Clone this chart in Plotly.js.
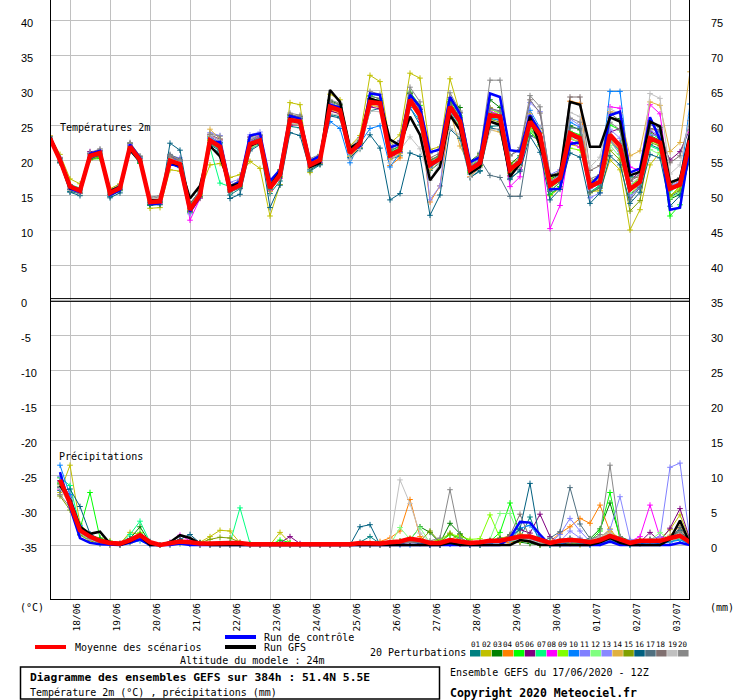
<!DOCTYPE html>
<html><head><meta charset="utf-8">
<script src="https://cdn.plot.ly/plotly-3.0.1.min.js"></script>
<style>body{margin:0;background:#fff}#chart{width:740px;height:700px}</style>
</head><body><div id="chart"></div>
<script>
// ---------- DATA ----------
const dateLabels = ['18/06','19/06','20/06','21/06','22/06','23/06','24/06','25/06','26/06','27/06','28/06','29/06','30/06','01/07','02/07','03/07'];
const dateTickHours = [12,36,60,84,108,132,156,180,204,228,252,276,300,324,348,372];
const yTickVals = [-35,-30,-25,-20,-15,-10,-5,0,5,10,15,20,25,30,35,40];
const leftTickText = ['-35','-30','-25','-20','-15','-10','-5','0','5','10','15','20','25','30','35','40'];
const rightTickText = ['0','5','10','15','20','25','30','35','40','45','50','55','60','65','70','75'];
const pertNames = ['01','02','03','04','05','06','07','08','09','10','11','12','13','14','15','16','17','18','19','20'];
const pertColors = ['#008080','#c0c000','#008000','#ff8000','#00ff00','#800080','#00ff80','#ff00ff','#80ff00','#0080ff','#8080ff','#80ff80','#8888ff','#e0b040','#80a000','#006080','#507080','#807070','#c0c0c0','#888888'];

// Temperature 2m (degC), every 6 h from 17/06 12Z to +384 h
const tempMean = [23.1,20.0,16.2,15.6, 20.6,21.0,15.3,16.0, 21.9,20.0,14.0,14.1, 19.9,19.4,12.9,15.0, 22.8,21.9,15.7,16.4, 22.3,22.8,16.0,17.9, 25.7,25.5,19.3,20.0, 27.6,27.1,21.0,22.4, 28.3,28.1,20.7,21.4, 28.6,26.4,19.3,20.2, 27.6,25.5,18.6,19.6, 26.4,26.2,18.6,19.8, 25.5,23.6,16.4,17.4, 23.8,23.1,16.2,16.9, 23.6,22.0,15.8,16.9, 23.1,22.5,15.9,16.5, 22.8];
const tempCtrl = [23.2,20.3,15.9,15.4, 20.9,21.3,15.0,15.7, 22.2,20.3,13.7,13.8, 19.5,19.0,12.6,14.7, 22.5,22.6,16.2,16.9, 23.5,23.8,17.0,18.6, 26.3,25.9,19.8,20.6, 27.9,27.5,21.2,22.0, 29.5,29.3,21.8,22.3, 29.3,27.6,21.1,21.5, 29.0,26.6,19.7,20.4, 29.5,29.0,21.4,21.2, 26.4,24.0,15.8,15.9, 22.3,22.5,16.4,17.9, 26.4,26.9,18.2,18.8, 26.1,22.9,12.9,13.2, 22.0];
const tempGfs = [23.3,20.1,16.0,15.8, 20.7,21.1,15.6,16.2, 21.5,19.8,14.3,14.2, 19.7,19.2,14.5,16.3, 22.0,20.5,16.3,16.6, 22.0,22.7,16.3,18.3, 25.9,25.3,19.0,19.6, 30.0,28.3,21.7,22.6, 28.8,28.3,22.9,22.1, 26.2,23.6,17.1,19.0, 26.4,24.3,18.1,19.0, 25.5,25.0,17.6,19.5, 26.2,22.1,17.7,18.0, 28.3,27.9,21.9,21.9, 26.1,25.5,17.8,18.3, 25.5,24.8,16.8,17.3, 23.8];
const tempP01 = [23.0,19.6,15.5,15.2, 20.2,20.6,14.8,15.6, 21.4,19.6,13.5,13.7, 20.6,19.9,13.4,15.6, 21.9,21.0,15.0,15.9, 21.6,22.3,15.2,17.0, 24.8,24.6,18.4,19.3, 26.5,26.2,20.4,21.6, 27.0,27.4,20.1,20.6, 27.5,25.0,18.5,19.6, 26.8,24.6,17.5,18.5, 24.8,24.9,17.2,18.6, 24.5,23.0,15.0,16.2, 22.5,22.3,15.4,16.4, 22.8,21.3,15.1,16.2, 22.2,21.6,14.7,15.5, 21.2];
const tempP02 = [23.4,20.8,17.3,16.6, 20.1,20.4,15.9,16.6, 21.4,19.9,13.1,13.2, 18.6,18.4,13.6,15.6, 19.3,19.5,17.5,17.9, 19.8,18.8,12.0,16.5, 28.2,27.9,18.2,20.8, 29.4,28.6,22.0,23.5, 32.1,31.2,22.4,23.6, 32.4,31.7,21.5,21.9, 31.6,26.7,19.1,20.8, 27.5,26.3,19.5,20.1, 24.6,22.0,14.9,16.0, 22.2,21.9,15.5,15.6, 20.0,18.6,10.0,12.9, 19.3,21.1,14.8,16.3, 20.6];
const tempP03 = [23.2,20.1,16.0,15.5, 20.9,21.2,15.4,16.2, 22.3,20.3,14.2,14.0, 19.6,19.1,12.6,14.8, 23.3,22.5,16.1,16.6, 22.6,23.3,16.6,18.6, 26.4,26.0,19.9,20.7, 28.5,27.9,21.4,22.6, 28.8,28.4,21.0,21.8, 29.5,27.2,20.0,20.5, 28.3,27.5,19.8,20.9, 28.6,27.5,19.4,20.6, 26.2,24.5,17.3,17.9, 24.9,24.3,17.0,17.6, 26.0,25.9,17.6,17.5, 23.5,22.8,14.4,15.1, 21.5];
const tempP04 = [23.0,20.2,16.4,15.8, 20.4,20.8,15.1,15.9, 22.0,20.2,14.3,14.5, 20.2,19.7,13.0,15.3, 23.0,22.0,15.5,16.3, 22.0,22.4,15.6,17.4, 25.3,25.2,19.0,19.5, 27.1,26.6,20.6,22.1, 27.8,27.6,19.2,20.3, 28.0,25.9,14.0,16.3, 26.2,24.9,17.6,19.0, 25.5,25.1,17.8,19.1, 25.0,23.8,16.0,17.2, 28.4,28.1,16.0,17.0, 23.0,21.4,14.7,16.7, 24.5,24.0,16.5,17.2, 23.5];
const tempP05 = [23.3,20.0,16.3,15.9, 20.1,20.2,15.6,16.1, 21.6,19.5,13.6,13.9, 20.0,19.4,12.5,14.6, 22.8,22.3,16.0,16.2, 22.9,23.5,16.1,17.5, 26.0,26.2,19.3,20.3, 28.2,27.5,21.3,22.8, 29.2,28.7,21.2,22.0, 29.7,27.8,19.3,20.0, 28.6,26.3,18.2,19.2, 26.8,26.5,18.3,19.3, 24.0,22.5,15.1,16.2, 24.1,23.6,16.2,16.8, 25.0,24.3,16.0,16.6, 23.9,23.0,12.0,13.6, 21.1];
const tempP06 = [23.1,20.3,16.1,15.6, 21.2,21.3,15.2,16.0, 22.1,20.2,14.0,14.3, 20.5,19.8,12.7,15.2, 23.5,22.8,15.8,16.0, 23.3,23.6,16.0,17.5, 25.0,25.0,19.0,19.6, 27.0,26.6,20.8,22.1, 27.6,27.3,20.3,21.1, 28.5,26.3,19.0,20.0, 28.0,25.5,18.0,19.3, 26.3,26.0,17.7,19.1, 25.1,23.3,16.6,17.1, 23.4,22.8,16.3,16.8, 24.0,24.5,17.0,18.4, 24.1,23.2,20.0,21.2, 24.4];
const tempP07 = [23.4,20.2,16.5,16.0, 20.3,20.9,15.4,16.2, 21.7,20.4,14.1,14.0, 19.5,18.9,12.8,15.1, 21.8,16.7,16.2,16.5, 22.5,22.9,16.3,17.6, 25.5,25.4,19.1,19.7, 27.7,27.0,21.2,22.3, 28.4,28.0,20.8,21.5, 28.4,26.2,19.1,20.5, 27.3,24.8,18.4,19.7, 26.0,25.8,18.5,19.5, 25.6,22.2,16.5,17.5, 23.0,22.5,15.4,16.2, 23.4,21.6,16.4,17.2, 22.0,21.4,15.6,16.4, 22.0];
const tempP08 = [23.0,19.8,15.9,15.3, 20.6,21.0,15.1,15.8, 22.1,20.0,13.9,13.8, 20.4,19.9,11.4,14.5, 23.6,22.9,15.5,16.4, 22.8,23.4,15.7,17.4, 25.8,25.4,19.2,19.7, 27.4,26.8,20.8,22.2, 28.0,27.8,20.4,21.1, 28.3,26.0,19.2,20.1, 27.4,25.9,18.8,19.9, 27.0,26.4,16.2,17.6, 25.8,23.0,10.2,13.5, 22.6,21.8,16.1,17.6, 27.6,27.4,19.0,18.5, 27.9,26.6,16.1,16.5, 24.0];
const tempP09 = [23.2,20.0,16.2,15.6, 20.5,21.1,15.4,16.0, 21.8,19.9,14.1,14.3, 20.1,19.6,13.0,15.0, 22.9,22.0,15.9,16.6, 22.4,22.7,16.2,18.0, 25.9,25.6,19.6,20.1, 27.3,26.9,21.3,22.6, 28.6,28.3,20.9,21.7, 28.9,26.8,19.6,20.4, 27.9,25.2,18.8,20.6, 27.2,26.8,19.1,20.0, 24.8,22.9,17.4,18.2, 21.7,21.4,16.8,17.5, 22.7,20.9,16.2,17.5, 22.8,22.1,14.9,16.0, 22.3];
const tempP10 = [23.1,20.2,16.3,15.7, 20.8,21.0,15.3,16.1, 22.0,20.1,13.9,14.1, 20.3,19.8,13.2,15.3, 23.1,22.4,16.1,16.8, 22.6,23.1,16.2,18.1, 25.6,25.3,19.4,20.4, 25.5,24.5,19.6,22.4, 24.5,24.9,19.0,21.0, 27.5,25.5,18.9,19.9, 27.0,25.1,18.5,19.4, 25.9,25.7,18.9,20.3, 27.1,24.6,16.8,18.0, 25.4,24.7,16.5,17.5, 29.8,29.8,17.7,18.3, 25.3,24.0,15.8,16.6, 28.0];
const tempP11 = [23.3,20.4,16.0,15.4, 21.0,21.4,15.0,15.8, 22.2,20.3,13.8,14.2, 20.6,20.3,12.4,14.7, 23.2,22.6,16.3,17.0, 23.0,23.6,16.7,18.2, 26.2,26.1,19.9,20.3, 28.0,27.6,21.0,22.2, 28.6,28.5,21.6,22.7, 29.0,27.0,19.4,20.0, 27.7,25.9,19.1,19.9, 26.6,26.4,19.0,19.5, 28.2,26.9,17.9,18.6, 23.6,22.9,14.6,15.3, 22.9,20.8,14.9,16.0, 23.6,23.4,16.3,16.8, 23.5];
const tempP12 = [23.1,19.9,16.1,15.6, 20.3,20.8,15.5,16.3, 21.5,19.7,14.2,14.4, 19.8,19.3,13.4,15.4, 22.4,21.4,15.4,16.1, 21.8,22.2,15.8,17.6, 25.3,25.0,19.0,20.2, 27.3,27.0,20.6,22.2, 28.2,28.0,20.5,21.2, 28.8,26.4,19.7,20.8, 27.4,25.0,18.0,19.0, 26.2,26.2,18.3,19.9, 24.3,22.6,15.7,16.8, 23.2,22.3,16.9,17.3, 22.1,20.4,15.2,16.4, 21.5,20.8,14.5,15.4, 21.6];
const tempP13 = [23.2,20.1,16.2,15.7, 20.7,21.2,15.2,15.9, 22.0,20.0,14.0,14.2, 20.0,19.5,12.3,14.6, 23.9,23.5,16.8,17.3, 23.6,24.0,16.4,18.0, 26.0,25.8,19.6,20.1, 28.1,27.4,20.9,22.0, 28.2,27.8,20.6,21.3, 28.2,26.4,14.3,16.3, 27.9,26.7,19.4,20.3, 27.3,26.9,18.7,19.9, 26.3,24.6,16.2,17.2, 25.9,24.9,15.9,16.6, 24.4,23.1,14.7,16.2, 24.3,23.4,16.2,17.1, 22.8];
const tempP14 = [23.5,20.3,16.3,15.8, 20.8,21.1,15.3,16.1, 22.0,20.1,14.3,14.6, 20.3,19.6,13.3,15.5, 24.4,23.0,15.6,16.5, 21.9,22.4,15.5,17.5, 25.2,25.1,18.8,19.5, 27.3,26.7,20.5,21.8, 27.9,27.6,20.1,20.9, 28.1,26.1,18.6,19.7, 27.0,22.0,19.1,19.4, 24.3,24.0,18.2,20.1, 26.6,24.3,17.2,17.3, 23.0,22.7,16.9,17.8, 26.9,26.7,20.6,21.3, 28.3,27.8,21.2,22.5, 32.6];
const tempP15 = [23.0,19.7,15.8,15.3, 20.0,20.5,15.1,15.7, 21.6,19.8,13.7,13.9, 19.4,19.0,12.7,14.6, 22.3,21.6,15.6,16.3, 22.1,22.8,15.9,17.7, 25.7,25.4,19.1,19.9, 27.6,27.2,21.1,22.4, 28.6,28.2,20.5,21.2, 28.7,26.9,20.0,20.7, 28.3,26.0,18.4,19.2, 25.8,25.4,18.1,19.2, 25.1,23.9,16.0,17.0, 23.7,23.4,15.3,16.0, 21.4,20.0,12.7,14.2, 22.5,22.0,14.9,15.7, 21.0];
const tempP16 = [22.9,19.6,15.4,14.9, 20.2,20.7,14.6,15.3, 21.2,19.6,13.6,13.6, 22.4,21.4,13.8,15.6, 22.2,21.3,14.5,15.1, 21.3,22.2,13.2,16.4, 23.9,23.5,18.6,19.4, 26.3,26.0,20.3,21.7, 23.6,21.7,14.3,15.2, 21.0,20.5,12.1,15.0, 24.4,23.1,17.5,18.4, 24.6,24.3,17.4,18.4, 23.4,21.1,14.3,15.8, 21.0,20.4,13.8,15.3, 20.6,19.3,13.8,15.4, 20.8,20.3,13.4,14.9, 20.2];
const tempP17 = [23.1,19.9,15.8,15.5, 20.4,20.9,15.0,15.8, 21.5,19.8,13.9,14.0, 20.8,20.1,13.1,14.8, 22.5,21.5,15.4,16.0, 22.0,22.5,15.8,17.8, 26.1,25.9,19.6,20.5, 27.8,27.3,21.5,22.8, 28.8,28.5,21.4,22.0, 29.3,27.2,19.8,20.8, 28.0,26.1,19.0,20.1, 17.8,17.5,14.8,14.8, 23.5,22.8,15.5,16.8, 24.6,24.5,15.4,16.0, 23.5,22.4,14.3,16.1, 25.6,24.6,16.4,17.4, 21.4];
const tempP18 = [23.3,20.3,16.5,15.9, 20.9,21.4,15.5,16.4, 22.4,20.5,14.5,14.7, 20.5,19.9,13.7,15.6, 23.6,23.0,16.4,17.1, 23.2,23.6,16.8,18.4, 26.5,26.2,19.8,20.5, 28.3,27.8,21.4,22.7, 29.1,28.8,21.6,22.3, 29.6,27.4,20.3,21.0, 28.9,26.8,19.6,20.7, 27.4,27.0,20.6,21.5, 28.6,26.7,17.8,18.3, 29.0,29.0,18.5,19.2, 26.7,25.6,17.0,17.8, 24.5,24.3,19.6,20.6, 25.6];
const tempP19 = [23.2,20.0,16.0,15.5, 20.5,21.0,15.6,16.3, 21.7,20.1,14.4,14.6, 20.1,19.7,13.2,15.3, 23.5,22.8,16.0,16.8, 23.1,23.7,16.4,17.8, 25.3,25.1,19.0,19.8, 26.6,26.4,20.1,21.5, 27.0,26.9,19.6,21.4, 23.3,21.6,17.1,19.6, 24.5,23.6,17.5,18.9, 24.2,24.5,17.9,19.1, 25.8,24.7,16.0,17.8, 26.8,26.2,19.0,20.4, 27.3,26.6,16.5,17.6, 29.5,28.8,18.0,19.3, 26.3];
const tempP20 = [23.0,19.8,15.7,15.2, 21.0,21.6,15.7,16.5, 22.5,20.6,14.7,14.9, 20.7,20.0,13.3,15.4, 23.7,23.4,16.3,17.0, 22.9,23.2,16.6,18.5, 26.7,26.4,20.2,20.8, 28.6,28.1,21.8,23.2, 29.8,29.4,22.0,22.8, 30.4,28.3,20.9,21.7, 29.6,27.0,19.2,21.1, 31.4,31.4,20.6,21.8, 29.2,27.6,17.0,17.9, 26.0,25.4,17.3,17.9, 25.4,24.3,17.2,17.9, 25.0,24.7,16.8,17.5, 24.2];

// Precipitation (mm / 6 h), from +6 h to +384 h
const precMean = [9.3,6.0,2.1,1.2,0.6,0.3,0.2,0.7, 1.4,0.4,0.0,0.3,0.5,0.4,0.2,0.2, 0.3,0.3,0.3,0.1,0.1,0.1,0.2,0.2, 0.1,0.1,0.1,0.1,0.1,0.1,0.3,0.3, 0.2,0.4,0.5,0.9,0.7,0.3,0.3,0.7, 0.5,0.3,0.4,0.6,0.6,0.9,1.2,1.2, 0.8,0.3,0.6,0.7,0.6,0.4,0.7,1.3, 0.8,0.3,0.6,0.6,0.6,1.0,1.3,0.4];
const precCtrl = [10.4,5.4,1.0,0.3,0.1,0,0,0.3, 0.8,0,0,0,0.2,0,0,0, 0,0,0,0,0,0,0,0, 0,0,0,0,0,0,0,0, 0,0,0,0,0,0,0,0, 0,0,0,0,0,1.0,3.3,3.2, 1.5,0,0,0,0,0,0,0.5, 0,0,0,0,0,0,0.3,0];
const precGfs = [8.5,6.5,2.6,1.6,1.9,0.2,0,0.5, 1.3,0,0,0.4,1.4,1.0,0.2,0, 0,0,0,0,0,0,0,0, 0,0,0,0,0,0,0,0, 0,0,0,0,0,0,0,0.3, 0,0,0,0,0,0,0.7,0.5, 0,0,0,0,0,0,0.4,1.0, 0.3,0,0,0,0,0.8,3.5,0.2];
const precP01 = [8.2,6.8,2.4,0.8,0.3,0,0,0.6, 1.2,0.2,0,0,0.3,0.2,0,0, 0,0,0,0,0,0,0,0, 0,0,0,0,0,0,0.4,1.2, 0.2,0,0.3,0.8,0.4,0,0,0.5, 0.3,0,0,0.3,0.4,1.5,1.0,4.0, 0.2,0,0.3,0.5,0.2,0,0.4,1.0, 0.6,0,0.3,0.5,0.3,0.6,0.8,0.2];
const precP02 = [7.5,11.4,3.0,1.4,1.0,0.6,0.2,1.8, 1.5,0.3,0,0.2,0.4,0.3,0.4,1.2, 2.1,2.0,0.3,0.2,0,0,1.8,0.3, 0,0,0,0,0,0,0,0, 0,0,0.4,1.0,0.5,0,0,0.8, 1.5,0.6,0,0.3,0.8,1.4,0.9,0.3, 0,0,0.5,0.2,0,0.3,1.0,2.3, 0.5,0,0.2,0.6,0.9,2.2,4.3,0.8];
const precP03 = [9.0,5.8,1.5,0.9,0.4,0.2,0.1,0.9, 2.6,0.3,0,0.3,0.6,0.4,0.2,0, 0,0,0,0,0,0,0,0, 0,0,0,0,0,0,0,0, 0,0,0.5,0.7,2.6,1.8,0.3,3.1, 1.6,0.4,0,0.5,0.8,0.6,0.4,0.2, 0,0,0,0.4,0.6,0.9,2.3,6.0, 1.2,0.6,0.8,0.4,0.5,0.9,1.5,0.3];
const precP04 = [9.6,6.3,2.0,1.1,0.5,0.3,0,0.4, 1.0,0.2,0,0.2,0.3,0.2,0,0, 0,0,0,0,0,0,0,0, 0,0,0,0,0,0,0,0.3, 0.5,1.0,2.0,6.5,1.2,0.2,0,0.3, 0.2,0,0.4,0.6,0.5,0.3,0.5,0.8, 0.4,0.5,1.7,2.6,3.8,3.1,5.7,1.9, 0.5,0.2,0.4,0.6,0.5,1.1,2.4,0.5];
const precP05 = [8.8,6.2,2.3,7.5,1.0,0.4,0.2,0.8, 1.6,0.3,0,0.1,0.4,0.3,0.2,0.1, 0.2,0,0,0,0,0,0.7,0.3, 0,0,0,0,0,0,0,0, 0,0,0.3,0.6,0.5,0.2,0.4,1.5, 1.0,0.3,0.2,0.5,1.8,6.0,1.5,0.5, 0.3,0.2,0.4,0.5,0.3,0.6,2.0,7.5, 0.8,0.2,0.5,0.8,0.4,0.7,1.0,0.3];
const precP06 = [9.2,7.0,2.5,1.3,0.7,0.3,0.2,0.5, 1.1,0.2,0,0.3,0.7,0.5,0.2,0, 0,0,0,0,0,0,0.3,1.2, 0.2,0,0,0,0,0,0,0, 0,0,0.2,0.4,0.3,0,0,0.2, 0.4,0.2,0.3,0.4,0.5,1.3,2.2,1.7, 4.4,1.2,0.2,0.4,0.5,0.3,0.3,0.8, 0.5,0.2,0.4,1.8,0.5,2.4,5.2,0.8];
const precP07 = [9.6,8.5,2.6,1.0,0.5,0.2,0.1,1.5, 3.4,0.4,0,0.2,0.3,0.2,0.2,0.1, 0.2,0.3,5.3,0.2,0,0,0,0, 0,0,0,0,0,0,0,0, 0.2,0,0.5,0.7,0.4,0,0,0.8, 0.6,0.3,0.2,0.4,0.7,0.6,0.9,1.0, 0.3,0,0.5,0.9,0.4,0.3,0.5,1.4, 0.6,0,0.5,0.7,0.4,0.5,0.8,0.2];
const precP08 = [8.0,6.4,1.9,1.0,0.5,0.1,0,0.4, 0.9,0.1,0,0.4,1.4,0.6,0.2,0, 0,0,0,0,0,0,0,0, 0,0,0,0,0,0,0,0, 0,0,0.3,0.6,0.4,0,0,0.2, 0.1,0,0.3,0.7,0.9,1.0,1.4,0.8, 0.4,0.2,0.3,0.5,0.3,0.2,0.6,1.0, 0.8,0.5,1.2,5.7,1.1,0.6,1.0,0.4];
const precP09 = [8.9,6.6,2.2,1.2,0.4,0.2,0,0.7, 1.8,0.3,0,0.2,0.3,0.2,0.1,0, 0,0,0,0,0,0,0,0, 0,0,0,0,0,0,0,0, 0,0,0.4,0.8,0.6,0.4,0.8,1.6, 1.2,0.8,0.9,4.3,1.0,0.7,0.6,0.5, 0.3,0.2,0.4,0.3,0.2,0.4,0.9,1.7, 0.9,0.2,0.7,0.6,0.5,0.9,1.4,0.3];
const precP10 = [11.4,7.2,2.8,1.5,0.6,0.2,0,0.3, 0.6,0,0,0.1,0.2,0.1,0,0, 0,0,0,0,0,0,0,0, 0,0,0,0,0,0,0,0, 0,0,0,0,0.2,0,0,0.1, 0.2,0,0,0.3,0.6,1.0,2.4,2.8, 1.0,0,0.2,0.4,0.3,0,0.2,0.6, 0.3,0,0.2,0.3,0.2,0.4,0.7,0.1];
const precP11 = [9.8,6.1,1.8,0.7,0.3,0.1,0,0.5, 1.0,0.2,0,0,0.3,0.2,0,0, 0,0,0,0,0,0,0,0, 0,0,0,0,0,0,0,0, 0,0,0.2,0.5,0.3,0,0,0.4, 0.3,0.2,0.1,0.3,0.4,0.6,0.8,0.5, 0.2,0.3,1.5,3.8,2.0,0.5,0.4,0.8, 0.6,0.3,0.5,0.8,1.2,11.1,11.7,0.6];
const precP12 = [8.6,5.9,1.6,0.6,0.1,0,0,0.3, 0.8,0.1,0,0,0.2,0.1,0,0, 0,0,0,0,0,0,0,0, 0,0,0,0,0,0,0,0, 0,0,2.5,0.8,2.5,0.3,0.2,0.4, 0.3,0.2,0.2,0.8,4.5,4.5,1.0,0.6, 0.3,0.2,0.3,0.5,0.3,0.4,1.0,1.6, 0.7,0.3,0.5,0.6,1.8,0.7,1.0,0.2];
const precP13 = [9.0,6.7,2.0,1.0,0.3,0.1,0,0.6, 1.2,0.2,0,0.2,0.4,0.3,0.1,0, 0,0,0,0,0,0,0,0, 0,0,0,0,0,0,0,0, 0,0,0.3,0.5,0.4,0.2,0.1,0.3, 0.2,0.1,0.2,0.4,0.5,0.8,1.2,0.9, 0.4,0.2,0.5,2.0,1.0,0.4,1.0,2.2, 6.9,0.8,0.6,0.7,0.5,0.9,1.6,0.3];
const precP14 = [8.4,6.0,2.2,1.1,0.6,0.2,0.1,0.7, 1.3,0.2,0,0.3,0.3,0.2,0,0, 0,0,0,0,0,0,0,0, 0,0,0,0,0,0,0,0, 0,0,0.3,0.9,0.6,0.2,0.3,0.5, 0.5,0.3,0.2,0.5,0.9,1.1,1.6,1.2, 0.3,0.2,0.4,0.6,0.4,0.7,1.1,1.9, 1.0,0.3,0.6,0.5,0.4,1.4,2.8,0.5];
const precP15 = [7.0,5.0,1.4,0.6,0.2,0,0,0.5, 1.1,0.3,0,0.2,0.5,0.4,0.3,0.8, 1.1,1.0,0.4,0,0,0,0,0, 0,0,0,0,0,0,0,0, 0,0,0.6,0.6,0.5,2.0,0.4,1.7, 0.6,0.3,0.2,0.6,1.0,0.9,1.4,1.1, 0.5,0.3,0.4,0.7,0.5,0.3,0.7,1.5, 0.8,0.3,0.6,0.7,0.6,1.0,2.0,0.4];
const precP16 = [7.8,8.0,5.5,1.6,0.8,0.3,0.2,0.9, 1.5,0.5,0,0.3,0.8,1.5,0.3,0, 0,0,0,0,0,0,0,0, 0,0,0,0,0,0,2.6,2.9, 0,0,0.2,0.5,0.3,0,0,0.4, 0.3,0,0.2,0.6,0.9,0.7,2.3,8.8, 0.4,0.2,0.8,0.9,0.6,0.3,0.9,1.3, 0.5,0.2,0.5,0.7,0.6,1.1,2.1,0.4];
const precP17 = [8.3,6.2,2.0,0.9,0.4,0.1,0,0.4, 1.0,0.2,0,0.1,0.3,0.2,0,0, 0,0,0,0,0,0,0,0, 0,0,0,0,0,0,0,0, 0,0,0.3,0.6,0.4,0.2,0.1,0.6, 0.4,0.2,0.3,0.6,0.8,1.0,1.1,0.6, 0.4,1.0,1.9,8.2,3.0,0.9,1.2,0.8, 0.4,0.3,0.6,0.5,0.4,0.8,2.5,0.6];
const precP18 = [8.7,6.4,2.1,1.0,0.3,0.1,0,0.5, 1.1,0.2,0,0.2,0.4,0.3,0.1,0, 0,0,0,0,0,0,0,0, 0,0,0,0,0,0,0,0, 0,0,0.2,0.5,0.3,0.1,0,0.3, 0.3,0.2,0.4,0.5,0.6,1.4,4.4,0.9, 0.5,0.3,0.4,0.5,0.4,0.3,0.8,1.3, 0.6,0.3,0.4,0.6,0.5,0.8,1.4,0.3];
const precP19 = [8.1,5.7,1.7,0.8,0.2,0,0,0.3, 0.9,0.1,0,0,0.2,0.1,0,0, 0,0,0,0,0,0,0,0, 0,0,0,0,0,0,0,0, 0,0.6,9.3,5.9,1.7,0.4,0.2,0.5, 0.3,0.2,0.2,0.4,0.5,0.6,0.8,0.7, 0.3,0.2,0.4,0.6,0.5,0.7,1.2,1.7, 0.8,0.3,0.5,0.6,0.9,1.0,1.6,0.4];
const precP20 = [7.2,5.4,1.8,0.9,0.3,0.1,0,0.6, 1.2,0.2,0,0.2,0.3,0.2,0,0, 0,0,0,0,0,0,0,0, 0,0,0,0,0,0,0,0, 0,0,0.3,0.4,0.5,0.6,1.0,7.9, 1.0,0.4,0.3,0.5,0.6,0.8,1.1,1.0, 0.5,0.4,0.6,1.0,0.8,0.7,1.5,11.4, 1.2,0.4,0.6,0.8,0.6,1.0,1.9,0.5];

const tempPerts = [tempP01,tempP02,tempP03,tempP04,tempP05,tempP06,tempP07,tempP08,tempP09,tempP10,tempP11,tempP12,tempP13,tempP14,tempP15,tempP16,tempP17,tempP18,tempP19,tempP20];
const precPerts = [precP01,precP02,precP03,precP04,precP05,precP06,precP07,precP08,precP09,precP10,precP11,precP12,precP13,precP14,precP15,precP16,precP17,precP18,precP19,precP20];

// ---------- BUILD ----------
const STEP = 6;
const tempHours = tempMean.map((_, i) => i * STEP);
const precHours = precMean.map((_, i) => (i + 1) * STEP);
const PREC_OFFSET = -35; // precipitation panel baseline on the shared axis
const toPanel = arr => arr.map(v => v + PREC_OFFSET);
const YMIN = -42.857, YMAX = 42.857;

const traces = [];
function addLine(x, y, color, width, markers) {
  const t = {x: x, y: y, type: 'scatter', mode: markers ? 'lines+markers' : 'lines',
             line: {color: color, width: width}, hoverinfo: 'skip', cliponaxis: true};
  if (markers) t.marker = {symbol: 'cross-thin', size: 4, color: color, line: {color: color, width: 1}};
  traces.push(t);
}
tempPerts.forEach((s, k) => addLine(tempHours, s, pertColors[k], 1, true));
precPerts.forEach((s, k) => addLine(precHours, toPanel(s), pertColors[k], 1, true));
addLine(tempHours, tempCtrl, '#0000ff', 2.5, false);
addLine(precHours, toPanel(precCtrl), '#0000ff', 2.5, false);
addLine(tempHours, tempGfs, '#000000', 2.5, false);
addLine(precHours, toPanel(precGfs), '#000000', 2.5, false);
addLine(tempHours, tempMean, '#ff0000', 4.5, false);
addLine(precHours, toPanel(precMean), '#ff0000', 4.5, false);

// pixel helpers for decorations outside the plot area (plot: x 50..690, y 0..600)
const px = p => (p - 50) / 640;
const py = p => (600 - p) / 600;
const MONO = 'DejaVu Sans Mono';

const shapes = [
  {type:'line', xref:'x', yref:'y', x0:0, x1:0, y0:YMIN, y1:YMAX, line:{color:'#000', width:2}},
  {type:'line', xref:'x', yref:'y', x0:384, x1:384, y0:YMIN, y1:YMAX, line:{color:'#000', width:2}},
  {type:'line', xref:'x', yref:'y', x0:0, x1:384, y0:YMIN, y1:YMIN, line:{color:'#000', width:2}},
  {type:'line', xref:'x', yref:'y', x0:0, x1:384, y0:0.2, y1:0.2, line:{color:'#000', width:1}},
  {type:'line', xref:'x', yref:'y', x0:0, x1:384, y0:-0.2, y1:-0.2, line:{color:'#000', width:1}},
  // legend lines
  {type:'line', xref:'paper', yref:'paper', x0:px(35), x1:px(66), y0:py(647), y1:py(647), line:{color:'#ff0000', width:4}},
  {type:'line', xref:'paper', yref:'paper', x0:px(225), x1:px(256), y0:py(637), y1:py(637), line:{color:'#0000ff', width:4}},
  {type:'line', xref:'paper', yref:'paper', x0:px(225), x1:px(256), y0:py(647), y1:py(647), line:{color:'#000000', width:4}},
  // title box
  {type:'rect', xref:'paper', yref:'paper', x0:px(20.5), x1:px(439.5), y0:py(667), y1:py(699), line:{color:'#000', width:1.5}, fillcolor:'rgba(0,0,0,0)'}
];

const annotations = [];
function txt(text, x, y, size, opts) {
  annotations.push(Object.assign({text: text, xref:'paper', yref:'paper', x: px(x), y: py(y),
    xanchor:'left', yanchor:'middle', showarrow:false, borderpad:0,
    font:{family: MONO, size: size, color:'#000'}}, opts || {}));
}
yTickVals.forEach((v, k) => {
  annotations.push({text: leftTickText[k], xref:'paper', yref:'y', x: px(20), y: v, yshift:-3,
    xanchor:'left', yanchor:'middle', showarrow:false, borderpad:0,
    font:{family:'Liberation Sans', size:11, color:'#000'}});
  annotations.push({text: rightTickText[k], xref:'paper', yref:'y', x: px(710), y: v, yshift:-3,
    xanchor:'left', yanchor:'middle', showarrow:false, borderpad:0,
    font:{family:'Liberation Sans', size:11, color:'#000'}});
});
txt('Températures 2m', 59, 127, 10);
txt('Précipitations', 58, 456, 10);
txt('(°C)', 19, 607, 10);
txt('(mm)', 709, 607, 10);
txt('Moyenne des scénarios', 74, 647, 10);
txt('Run de contrôle', 263, 637, 10);
txt('Run GFS', 263, 647, 10);
txt('Altitude du modele : 24m', 179, 660, 10);
txt('20 Perturbations', 369, 652, 10);
txt('<b>Diagramme des ensembles GEFS sur 384h : 51.4N 5.5E</b>', 29, 677, 11.3);
txt('Température 2m (°C) , précipitations (mm)', 29, 692.5, 10);
txt('Ensemble GEFS du 17/06/2020 - 12Z', 449, 672.5, 10);
txt('<b>Copyright 2020 Meteociel.fr</b>', 449, 692.5, 11.5);
pertNames.forEach((n, k) => {
  const x0 = 470 + k * 10.95;
  shapes.push({type:'rect', xref:'paper', yref:'paper', x0:px(x0), x1:px(x0 + 10.5), y0:py(656.5), y1:py(650),
    line:{width:0}, fillcolor: pertColors[k]});
  annotations.push({text:n, xref:'paper', yref:'paper', x:px(x0 + 5.3), y:py(644.5), xanchor:'center', yanchor:'middle',
    showarrow:false, borderpad:0, font:{family:MONO, size:7.5, color:'#000'}});
});

const layout = {
  width: 740, height: 700,
  margin: {l:50, r:50, t:0, b:100, pad:0},
  paper_bgcolor:'#ffffff', plot_bgcolor:'#ffffff',
  showlegend: false,
  xaxis: {range:[0,384], tickmode:'array', tickvals: dateTickHours, ticktext: dateLabels, tickangle:-90,
          showgrid:true, gridcolor:'#c0c0c0', gridwidth:1, zeroline:false, showline:false, ticks:'',
          ticklabelshift: 7, ticklabelstandoff: 0,
          tickfont:{family: MONO, size:9.5, color:'#000'}, fixedrange:true},
  yaxis: {range:[YMIN, YMAX], tickmode:'array', tickvals: yTickVals, showticklabels:false,
          showgrid:true, gridcolor:'#c0c0c0', gridwidth:1, zeroline:false, showline:false, ticks:'', fixedrange:true},
  shapes: shapes,
  annotations: annotations
};

Plotly.newPlot('chart', traces, layout, {staticPlot:true, displayModeBar:false});
</script>
</body></html>
